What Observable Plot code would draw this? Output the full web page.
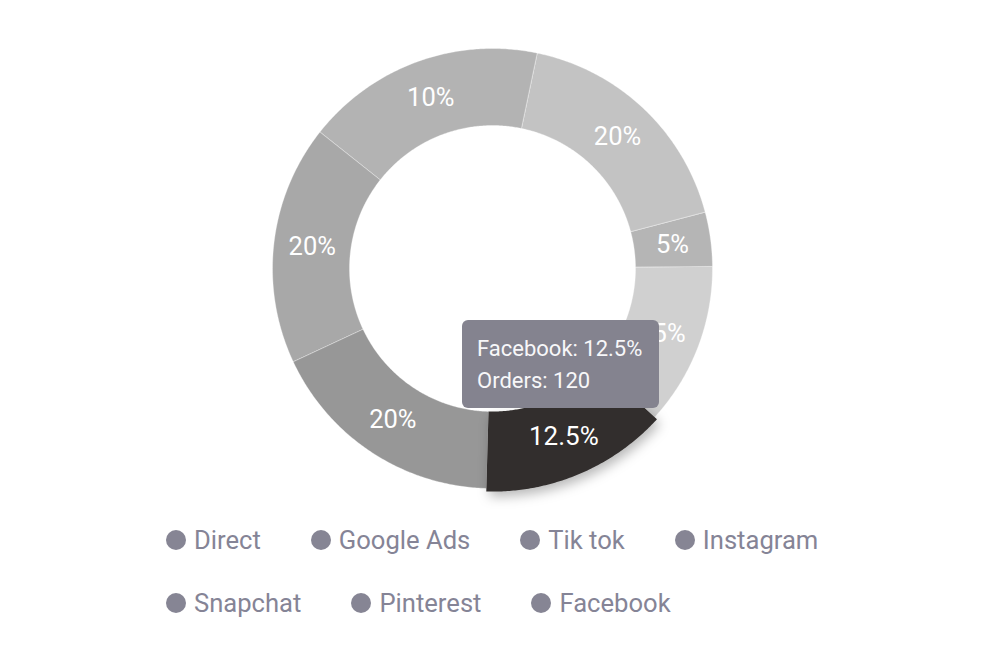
<!DOCTYPE html>
<html>
<head>
<meta charset="utf-8">
<script src="https://cdn.jsdelivr.net/npm/d3@7"></script>
<script src="https://cdn.jsdelivr.net/npm/@observablehq/plot@0.6"></script>
<style>
  html, body { margin: 0; padding: 0; background: #ffffff; }
  #wrap { position: relative; width: 984px; height: 672px; font-family: Roboto, "Noto Sans", sans-serif; overflow: hidden; }
  #chart { position: absolute; left: 0; top: 0; }
  #tooltip { position: absolute; left: 462px; top: 320px; width: 197px; height: 88px; box-sizing: border-box;
             background: #84838f; border-radius: 6px; color: #f7f7f9; font-size: 22px; line-height: 32px;
             padding: 13px 0 0 15px; white-space: nowrap; }
  #legend { position: absolute; left: 166px; top: 524px; width: 720px; display: flex; flex-wrap: wrap; row-gap: 31px; }
  .item { display: flex; align-items: center; height: 32px; margin-right: 50px; color: #858496; font-size: 25.6px; line-height: 32px; }
  .dot { width: 20px; height: 20px; border-radius: 50%; background: #868594; margin-right: 8px; flex: none; }
</style>
</head>
<body>
<div id="wrap">
  <div id="chart"></div>
  <div id="tooltip"></div>
  <div id="legend"></div>
</div>
<script>
// ---- data ----
const channels = ["Direct", "Google Ads", "Tik tok", "Instagram", "Snapchat", "Pinterest", "Facebook"];
const orders   = [155, 155, 155, 155, 35, 105, 120];
const shares   = ["20%", "20%", "10%", "20%", "5%", "15%", "12.5%"];
const colors   = ["#979797", "#a8a8a8", "#b3b3b3", "#c3c3c3", "#b5b5b5", "#d0d0d0", "#322e2d"];
const hovered  = "Facebook";

// ---- layout ----
const START = 181.6 * Math.PI / 180;
const INNER = 0.65, OUTER = 1, HOVER_OUTER = 1.014;

const rows = channels.map((name, i) => ({name, orders: orders[i], share: shares[i], color: colors[i]}));
const arcs = d3.pie().sort(null).value(d => d.orders).startAngle(START).endAngle(START + 2 * Math.PI)(rows);

function ring(a, r0, r1) {
  const n = Math.max(4, Math.ceil((a.endAngle - a.startAngle) / (Math.PI / 360)));
  const pts = [];
  for (let k = 0; k <= n; k++) {
    const t = a.startAngle + (a.endAngle - a.startAngle) * k / n;
    pts.push({name: a.data.name, color: a.data.color, x: r1 * Math.sin(t), y: r1 * Math.cos(t)});
  }
  for (let k = n; k >= 0; k--) {
    const t = a.startAngle + (a.endAngle - a.startAngle) * k / n;
    pts.push({name: a.data.name, color: a.data.color, x: r0 * Math.sin(t), y: r0 * Math.cos(t)});
  }
  return pts;
}

const basePts = arcs.filter(a => a.data.name !== hovered).flatMap(a => ring(a, INNER, OUTER));
const hovArc = arcs.find(a => a.data.name === hovered);
const hovPts = ring(hovArc, INNER, HOVER_OUTER);

const labelOf = (a, r0, r1) => {
  const m = (a.startAngle + a.endAngle) / 2, r = (r0 + r1) / 2;
  return {name: a.data.name, text: a.data.share, x: r * Math.sin(m), y: r * Math.cos(m)};
};
const baseLabels = arcs.filter(a => a.data.name !== hovered).map(a => labelOf(a, INNER, OUTER));
const hovLabels = [labelOf(hovArc, INNER, HOVER_OUTER)];

const chart = Plot.plot({
  width: 984,
  height: 512,
  margin: 0,
  style: {fontFamily: "Roboto, sans-serif", background: "transparent", overflow: "visible"},
  x: {domain: [-1, 1], range: [272, 712], axis: null},
  y: {domain: [-1, 1], range: [488, 48], axis: null},
  color: {type: "identity"},
  marks: [
    Plot.line(basePts, {x: "x", y: "y", z: "name", fill: "color", stroke: "#ffffff", strokeWidth: 0.6, strokeOpacity: 0.55, curve: "linear-closed"}),
    Plot.line(hovPts, {x: "x", y: "y", z: "name", fill: "color", stroke: "none", curve: "linear-closed", ariaDescription: "hovered-slice"}),
    Plot.text(baseLabels, {x: "x", y: "y", text: "text", fill: "#ffffff", fontSize: 25.5}),
    Plot.text(hovLabels, {x: "x", y: "y", text: "text", fill: "#ffffff", fontSize: 26})
  ]
});
const hs = chart.querySelector('[aria-description="hovered-slice"]');
if (hs) hs.style.filter = "drop-shadow(3px 5px 6px rgba(0,0,0,0.28))";
document.getElementById("chart").appendChild(chart);

// tooltip
const hv = rows.find(r => r.name === hovered);
const tip = document.getElementById("tooltip");
tip.innerHTML = `<div>${hv.name}: ${hv.share}</div><div>Orders: ${hv.orders}</div>`;

// legend
const legend = document.getElementById("legend");
channels.forEach(name => {
  const it = document.createElement("div");
  it.className = "item";
  it.innerHTML = `<span class="dot"></span><span>${name}</span>`;
  legend.appendChild(it);
});
</script>
</body>
</html>
